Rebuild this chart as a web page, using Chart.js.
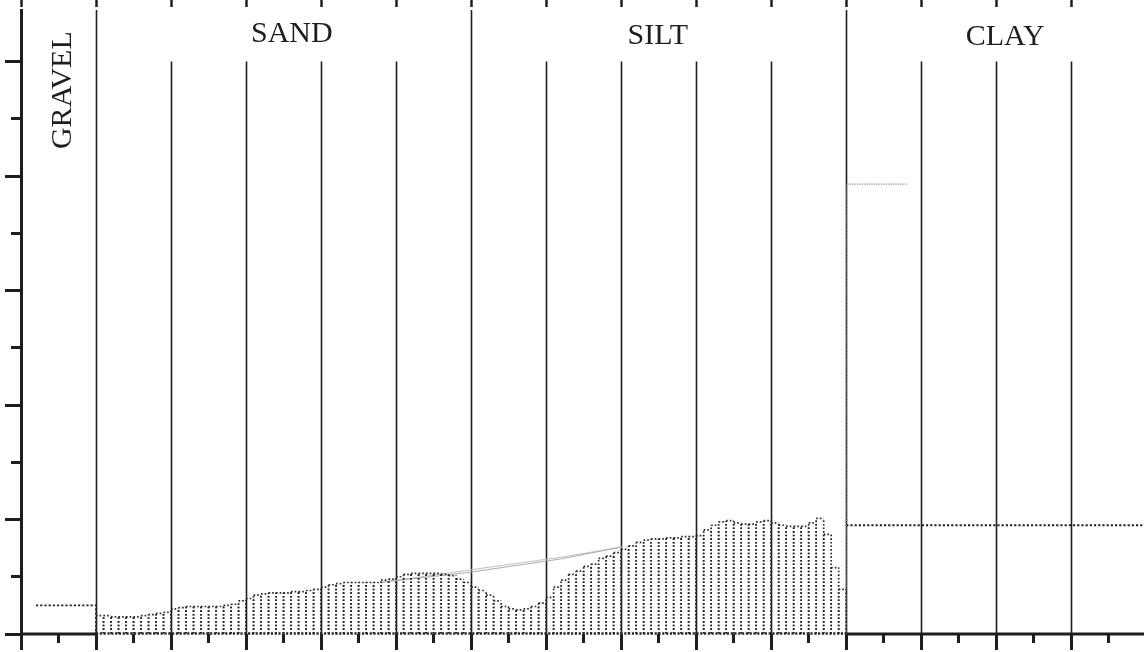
<!DOCTYPE html>
<html>
<head>
<meta charset="utf-8">
<title>Grain size distribution</title>
<script src="https://cdn.jsdelivr.net/npm/chart.js@4.4.1/dist/chart.umd.min.js"></script>
<style>
  html, body { margin: 0; padding: 0; background: #fff; }
  #wrap { width: 1144px; height: 652px; position: relative; }
</style>
</head>
<body>
<div id="wrap"><canvas id="grain"></canvas></div>
<script>
// ---------- Data (x in phi units, y in % per bin) ----------
const binStart = -1; // first sand bin edge (phi)
const binWidth = 0.1;

// sand + silt histogram, one value per 0.1 phi, from -1 to 9 phi
const sandSiltPct = [
  0.16, 0.16, 0.15, 0.15, 0.15, 0.15, 0.16, 0.17, 0.18, 0.19,
  0.22, 0.23, 0.24, 0.24, 0.24, 0.24, 0.24, 0.25, 0.26, 0.29,
  0.31, 0.34, 0.35, 0.36, 0.36, 0.36, 0.37, 0.37, 0.38, 0.39,
  0.41, 0.43, 0.44, 0.45, 0.45, 0.45, 0.45, 0.45, 0.47, 0.48,
  0.50, 0.52, 0.53, 0.53, 0.53, 0.53, 0.52, 0.51, 0.48, 0.45,
  0.41, 0.38, 0.34, 0.29, 0.24, 0.22, 0.21, 0.22, 0.24, 0.27,
  0.32, 0.41, 0.47, 0.52, 0.55, 0.59, 0.61, 0.66, 0.68, 0.71,
  0.74, 0.77, 0.80, 0.82, 0.83, 0.83, 0.84, 0.84, 0.85, 0.85,
  0.86, 0.91, 0.95, 0.98, 0.99, 0.97, 0.96, 0.96, 0.98, 0.99,
  0.97, 0.95, 0.94, 0.94, 0.94, 0.97, 1.01, 0.87, 0.58, 0.39,
];

// gravel level, clay step and clay level
const gravelLine = [{ x: -1.8, y: 0.25 }, { x: -1, y: 0.25 }, { x: -1, y: 0 }];
const clayStep = [{ x: 9, y: 0 }, { x: 9, y: 3.93 }, { x: 9.8, y: 3.93 }];
const clayLevel = [{ x: 9, y: 0.95 }, { x: 12.97, y: 0.95 }];

// faint grey double trace over the sand/silt boundary
const greyA = [{ x: 2.79, y: 0.45 }, { x: 3.99, y: 0.54 }, { x: 5.19, y: 0.655 }, { x: 6.01, y: 0.76 }];
const greyB = [{ x: 2.79, y: 0.45 }, { x: 3.99, y: 0.56 }, { x: 5.19, y: 0.67 }, { x: 6.01, y: 0.76 }];

const classNames = ["GRAVEL", "SAND", "SILT", "CLAY"];
const classBounds = [-1, 4, 9];

const X_MIN = -2, X_MAX = 12.97, Y_MAX = 5.45;

// ---------- helpers ----------
const isMajor = (v) => Math.abs(v - Math.round(v)) < 1e-6;
const INK = "#1e1e1e";

// ---------- drawing plugin: dividers, dotted bins, class names ----------
const grainPlugin = {
  id: "grain",
  beforeDatasetsDraw(chart) {
    const { ctx, chartArea, scales: { x, y } } = chart;
    ctx.save();
    ctx.strokeStyle = INK;
    ctx.lineWidth = 1.6;
    x.ticks.forEach((t) => {
      const v = t.value;
      if (!isMajor(v) || v <= x.min) return;
      const px = Math.round(x.getPixelForValue(v)) + 0.5;
      const top = classBounds.includes(Math.round(v)) ? chartArea.top : y.getPixelForValue(5);
      ctx.beginPath();
      ctx.moveTo(px, top);
      ctx.lineTo(px, chartArea.bottom);
      ctx.stroke();
    });
    // solid base line where there are no bins
    const y0 = y.getPixelForValue(0);
    ctx.lineWidth = 3;
    ctx.beginPath();
    ctx.moveTo(x.getPixelForValue(x.min), y0);
    ctx.lineTo(x.getPixelForValue(binStart), y0);
    ctx.moveTo(x.getPixelForValue(classBounds[2]), y0);
    ctx.lineTo(x.getPixelForValue(x.max), y0);
    ctx.stroke();
    ctx.restore();
  },
  afterDatasetsDraw(chart) {
    const { ctx } = chart;
    const bars = chart.getDatasetMeta(0).data;
    ctx.save();
    ctx.strokeStyle = "#262626";
    ctx.lineWidth = 1.7;
    ctx.setLineDash([1.6, 2]);
    bars.forEach((b) => {
      const l = b.x - b.width / 2, r = b.x + b.width / 2;
      ctx.beginPath();
      ctx.moveTo(l, b.base); ctx.lineTo(l, b.y);
      ctx.moveTo(r, b.base); ctx.lineTo(r, b.y);
      ctx.moveTo(l, b.y); ctx.lineTo(r, b.y);
      ctx.stroke();
    });
    // dotted base under the bins
    const first = bars[0], last = bars[bars.length - 1];
    ctx.lineWidth = 2.4;
    ctx.setLineDash([2.2, 1.6]);
    ctx.beginPath();
    ctx.moveTo(first.x - first.width / 2, first.base);
    ctx.lineTo(last.x + last.width / 2, last.base);
    ctx.stroke();
    ctx.restore();
  },
  afterDraw(chart) {
    const { ctx, scales: { x, y } } = chart;
    ctx.save();
    ctx.fillStyle = INK;
    ctx.font = '30px "Liberation Serif", "Times New Roman", serif';
    ctx.textAlign = "center";
    ctx.textBaseline = "alphabetic";
    // GRAVEL runs bottom-to-top
    ctx.save();
    ctx.translate(x.getPixelForValue(-1.33), y.getPixelForValue(4.75));
    ctx.rotate(-Math.PI / 2);
    ctx.fillText(classNames[0], 0, 0);
    ctx.restore();
    ctx.fillText(classNames[1], x.getPixelForValue(1.61), y.getPixelForValue(5.17));
    ctx.fillText(classNames[2], x.getPixelForValue(6.49), y.getPixelForValue(5.15));
    ctx.fillText(classNames[3], x.getPixelForValue(11.12), y.getPixelForValue(5.14));
    ctx.restore();
  },
};

// ---------- chart ----------
const ctx = document.getElementById("grain").getContext("2d");
const dotLine = (data, color, width, dash) => ({
  type: "line",
  data,
  borderColor: color,
  borderWidth: width,
  borderDash: dash,
  pointRadius: 0,
  fill: false,
  tension: 0,
});

new Chart(ctx, {
  type: "bar",
  data: {
    datasets: [
      {
        type: "bar",
        data: sandSiltPct.map((v, i) => ({ x: binStart + binWidth * (i + 0.5), y: v })),
        backgroundColor: "rgba(0,0,0,0)",
        borderWidth: 0,
        barPercentage: 1,
        categoryPercentage: 1,
      },
      dotLine(gravelLine, "#222", 1.8, [2.2, 2]),
      dotLine(clayStep, "#888", 1.3, [1.2, 1.2]),
      dotLine(clayLevel, "#222", 1.8, [2.2, 2]),
      dotLine(greyA, "#aaaaaa", 1, []),
      dotLine(greyB, "#c0c0c0", 1, []),
    ],
  },
  options: {
    responsive: true,
    maintainAspectRatio: false,
    animation: false,
    layout: { padding: { left: 5, right: 0, top: 0, bottom: 2 } },
    plugins: { legend: { display: false }, tooltip: { enabled: false } },
    scales: {
      x: {
        type: "linear",
        position: "bottom",
        min: X_MIN,
        max: X_MAX,
        offset: false,
        ticks: { stepSize: 0.5, display: false, includeBounds: false },
        border: { display: false },
        grid: {
          drawOnChartArea: false,
          offset: false,
          tickLength: 16,
          tickWidth: 3,
          tickColor: INK,
          tickBorderDash: (c) => (c.tick && isMajor(c.tick.value) ? [] : [9, 100]),
        },
      },
      xTop: {
        type: "linear",
        position: "top",
        min: X_MIN,
        max: X_MAX,
        offset: false,
        ticks: { stepSize: 1, display: false, includeBounds: false },
        border: { display: false },
        grid: {
          drawOnChartArea: false,
          offset: false,
          tickLength: 10,
          tickWidth: 2.5,
          tickColor: INK,
          tickBorderDash: [7, 100],
        },
      },
      y: {
        min: 0,
        max: Y_MAX,
        ticks: { stepSize: 0.5, display: false, includeBounds: false },
        border: { display: true, width: 3, color: INK },
        grid: {
          drawOnChartArea: false,
          tickLength: 16,
          tickWidth: 3,
          tickColor: INK,
          tickBorderDash: (c) => (c.tick && isMajor(c.tick.value) ? [] : [0, 6, 10, 100]),
        },
      },
    },
  },
  plugins: [grainPlugin],
});
</script>
</body>
</html>
